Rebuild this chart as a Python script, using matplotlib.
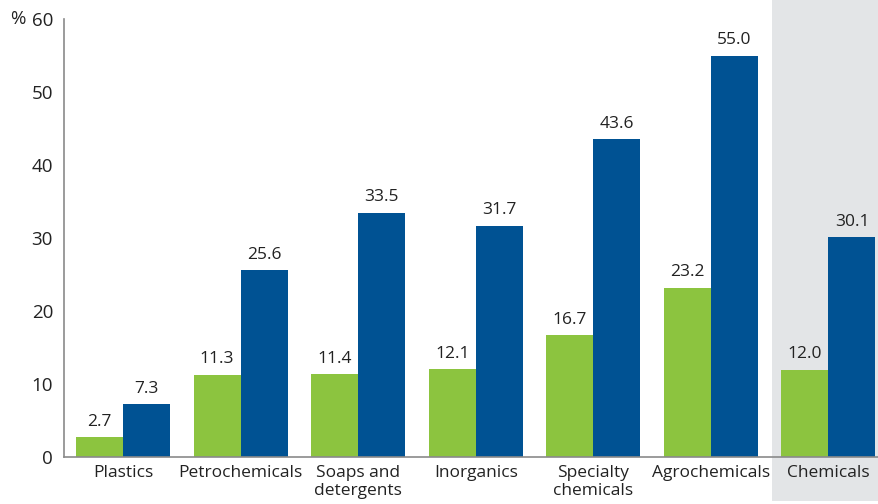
import matplotlib
matplotlib.use("Agg")
import matplotlib.pyplot as plt
from matplotlib.patches import Rectangle
import matplotlib.transforms as mtransforms
import numpy as np

categories = ["Plastics", "Petrochemicals", "Soaps and\ndetergents", "Inorganics",
              "Specialty\nchemicals", "Agrochemicals", "Chemicals"]
green_vals = [2.7, 11.3, 11.4, 12.1, 16.7, 23.2, 12.0]
blue_vals = [7.3, 25.6, 33.5, 31.7, 43.6, 55.0, 30.1]
yticks = [0, 10, 20, 30, 40, 50, 60]

GREEN = "#8CC43F"
BLUE = "#005293"
GRAY = "#E3E5E7"

plt.rcParams['font.family'] = ['Open Sans', 'DejaVu Sans']

fig = plt.figure(figsize=(8.79, 5.04), dpi=100)
ax = fig.add_axes([0.073, 0.093, 0.927, 0.869])

x = np.arange(len(categories))
w = 0.4

# shaded highlight behind the last group
trans = mtransforms.blended_transform_factory(ax.transData, ax.transAxes)
ax.add_patch(Rectangle((5.52, -0.1), 2.0, 1.2, transform=trans, facecolor=GRAY,
                       edgecolor='none', zorder=0, clip_on=False))

gb = ax.bar(x - w / 2, green_vals, w, color=GREEN, zorder=2)
bb = ax.bar(x + w / 2, blue_vals, w, color=BLUE, zorder=2)

for rect, v in zip(gb, green_vals):
    ax.text(rect.get_x() + rect.get_width() / 2, v + 1.0, f"{v:.1f}",
            ha='center', va='bottom', fontsize=12.5, color='#222222')
for rect, v in zip(bb, blue_vals):
    ax.text(rect.get_x() + rect.get_width() / 2, v + 1.0, f"{v:.1f}",
            ha='center', va='bottom', fontsize=12.5, color='#222222')

ax.set_xlim(-0.5, 6.43)
ax.set_ylim(0, 60)
ax.set_yticks(yticks)
ax.set_yticklabels([str(t) for t in yticks], fontsize=13.5, color='#222222')
ax.set_xticks(x)
ax.set_xticklabels(categories, fontsize=12.5, color='#222222', linespacing=1.1)
ax.tick_params(axis='both', length=0)
ax.tick_params(axis='y', pad=8)
ax.tick_params(axis='x', pad=6)

for s in ['top', 'right']:
    ax.spines[s].set_visible(False)
for s in ['left', 'bottom']:
    ax.spines[s].set_color('#8a8a8a')
    ax.spines[s].set_linewidth(1.2)
ax.set_facecolor('none')

ax.text(-0.057, 60, "%", transform=ax.get_yaxis_transform(),
        ha='center', va='center', fontsize=13.5, color='#222222')

fig.savefig("out.png", dpi=100)
